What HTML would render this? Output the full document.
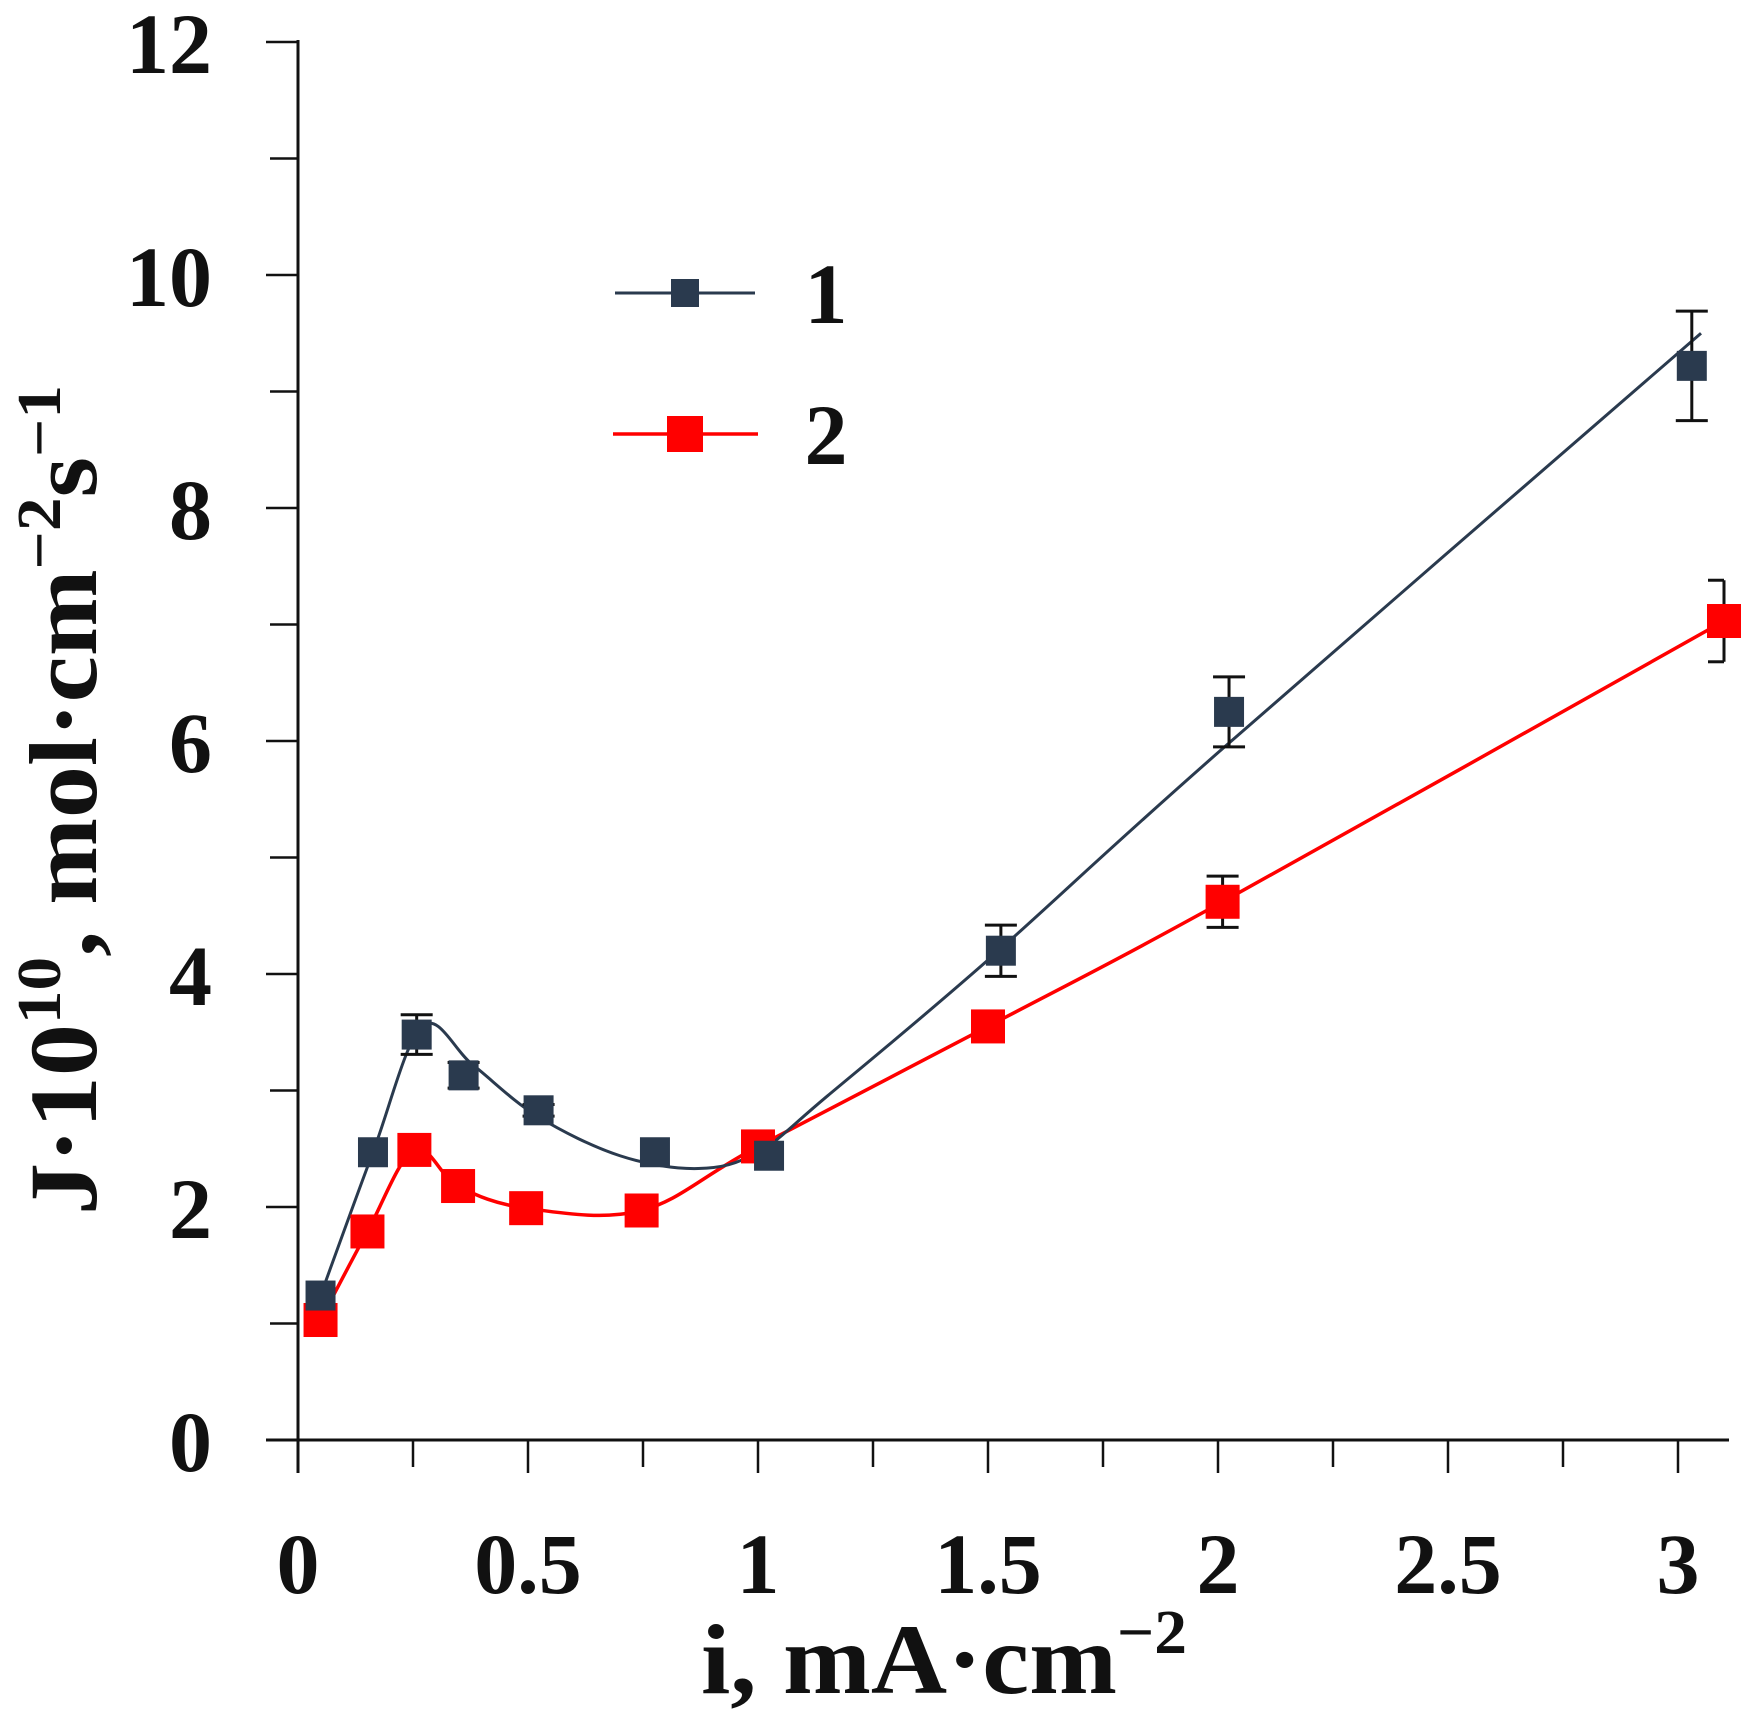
<!DOCTYPE html>
<html><head><meta charset="utf-8"><style>
html,body{margin:0;padding:0;background:#fff;}
svg{display:block;}
text{font-family:"Liberation Serif",serif;font-weight:bold;fill:#111;}
</style></head><body>
<svg id="s" width="1755" height="1720" viewBox="0 0 1755 1720" xmlns="http://www.w3.org/2000/svg">
<g stroke="#111" stroke-width="3" fill="none">
<line x1="298" y1="40" x2="298" y2="1473"/>
<line x1="266" y1="1440" x2="1729" y2="1440"/>
</g>
<g id="ticks" stroke="#111" stroke-width="2.5"></g>
<g id="labels" font-size="86"></g>
<g id="series"></g>
<text x="944" y="1693" font-size="100" text-anchor="middle" textLength="486" lengthAdjust="spacingAndGlyphs">i, mA·cm<tspan dy="-40" font-size="62">−2</tspan></text>
<text transform="translate(96,800) rotate(-90)" font-size="96" text-anchor="middle" textLength="830" lengthAdjust="spacingAndGlyphs">J·10<tspan dy="-36" font-size="62">10</tspan><tspan dy="36">, mol·cm</tspan><tspan dy="-36" font-size="62">−2</tspan><tspan dy="36">s</tspan><tspan dy="-36" font-size="62">−1</tspan></text>
<g>
<line x1="615" y1="293" x2="755" y2="293" stroke="#2a3a4e" stroke-width="3"/>
<rect x="671" y="279" width="28" height="28" fill="#2a3a4e"/>
<text x="826" y="323" font-size="86" text-anchor="middle">1</text>
<line x1="613" y1="434" x2="758" y2="434" stroke="#f00" stroke-width="3.5"/>
<rect x="667" y="416" width="36" height="36" fill="#f00"/>
<text x="826" y="464" font-size="86" text-anchor="middle">2</text>
</g>
</svg>
<script>
var NS="http://www.w3.org/2000/svg";
function px(x){return 298+460*x;}function py(y){return 1440-116.5*y;}
function el(t,a,p){var e=document.createElementNS(NS,t);for(var k in a)e.setAttribute(k,a[k]);p.appendChild(e);return e;}
var tk=document.getElementById('ticks'),lb=document.getElementById('labels'),sr=document.getElementById('series');
for(var i=0;i<=12;i++){var y=py(i);el('line',{x1:i%2==0?266:270,y1:y,x2:298,y2:y},tk);
 if(i%2==0){var t=el('text',{x:212,y:y+31,'text-anchor':'end'},lb);t.textContent=String(i);}}
for(var j=0;j<=12;j++){var x=px(j*0.25);el('line',{x1:x,y1:1440,x2:x,y2:j%2==0?1473:1467},tk);
 if(j%2==0){var t2=el('text',{x:x,y:1593,'text-anchor':'middle'},lb);t2.textContent=String(j*0.25);}}
function cr(pts){var d='M'+px(pts[0][0])+','+py(pts[0][1]);var P=pts.map(function(p){return[px(p[0]),py(p[1])];});
 for(var i=0;i<P.length-1;i++){var p0=P[i-1]||P[i],p1=P[i],p2=P[i+1],p3=P[i+2]||P[i+1];
 d+=' C'+(p1[0]+(p2[0]-p0[0])/6)+','+(p1[1]+(p2[1]-p0[1])/6)+' '+(p2[0]-(p3[0]-p1[0])/6)+','+(p2[1]-(p3[1]-p1[1])/6)+' '+p2[0]+','+p2[1];}return d;}
var c1=[[0.049,1.24],[0.163,2.47],[0.27,3.55],[0.38,3.22],[0.52,2.78],[0.7,2.44],[0.87,2.33],[1.0,2.47],[1.15,2.95],[1.5,4.12],[2.0,5.9],[3.05,9.5]];
var c2=[[0.049,1.03],[0.151,1.79],[0.253,2.49],[0.348,2.18],[0.496,1.99],[0.747,1.97],[1.0,2.52],[1.5,3.55],[2.01,4.62],[3.1,7.03]];
el('path',{d:cr(c2),fill:'none',stroke:'#f00','stroke-width':3.5},sr);
el('path',{d:cr(c1),fill:'none',stroke:'#2a3a4e','stroke-width':3},sr);
var p1=[[0.049,1.24,0],[0.163,2.47,0],[0.258,3.48,0.17],[0.36,3.13,0.11],[0.523,2.83,0.05],[0.776,2.47,0],[1.024,2.44,0],[1.528,4.2,0.22],[2.024,6.25,0.3],[3.03,9.22,0.47]];
var p2=[[0.049,1.03,0],[0.151,1.79,0],[0.253,2.49,0],[0.348,2.18,0],[0.496,1.99,0],[0.747,1.97,0],[1.0,2.52,0],[1.5,3.55,0.1],[2.01,4.62,0.22],[3.1,7.03,0.35]];
function eb(p,half){if(!p[2])return;var x=px(p[0]),y1=py(p[1]+p[2]),y2=py(p[1]-p[2]);
 el('line',{x1:x,y1:y1,x2:x,y2:y2,stroke:'#111','stroke-width':3},sr);
 var xr=half?x:x+16;el('line',{x1:x-16,y1:y1,x2:xr,y2:y1,stroke:'#111','stroke-width':3},sr);
 el('line',{x1:x-16,y1:y2,x2:xr,y2:y2,stroke:'#111','stroke-width':3},sr);}
p2.forEach(function(p){eb(p,p[0]>3);});
p2.forEach(function(p){el('rect',{x:px(p[0])-17,y:py(p[1])-17,width:34,height:34,fill:'#f00'},sr);});
p1.forEach(function(p){eb(p,false);});
p1.forEach(function(p){el('rect',{x:px(p[0])-15,y:py(p[1])-15,width:30,height:30,fill:'#2a3a4e'},sr);});
</script>
</body></html>
